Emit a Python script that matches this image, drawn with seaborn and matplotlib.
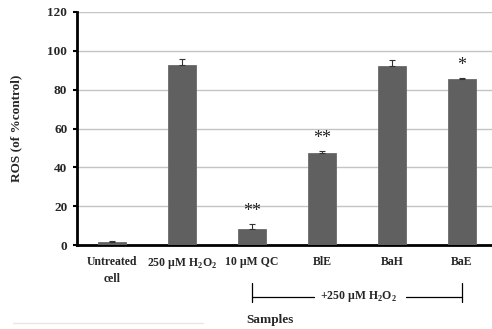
import matplotlib
matplotlib.use("Agg")
import matplotlib.pyplot as plt
import matplotlib.transforms as mtransforms
import seaborn as sns
import pandas as pd

# Données
samples = ["Untreated\ncell", "250 µM H$_\\mathregular{2}$O$_\\mathregular{2}$", "10 µM QC", "BlE", "BaH", "BaE"]
ros = [1.8, 92.5, 8.3, 47.3, 92.0, 85.5]
sem = [0.2, 3.3, 2.5, 1.0, 3.3, 0.5]
stars = ["", "", "**", "**", "", "*"]

sns.set_theme(style="white")
plt.rcParams["font.family"] = ["Liberation Serif", "DejaVu Serif"]
plt.rcParams["font.weight"] = "bold"
plt.rcParams["mathtext.fontset"] = "custom"
plt.rcParams["mathtext.rm"] = "Liberation Serif:bold"

df = pd.DataFrame({"sample": samples, "ros": ros})

fig = plt.figure(figsize=(4.92, 3.29), dpi=100)
ax = fig.add_axes([77 / 492, 1 - 245 / 329, 420 / 492, 233 / 329])

sns.barplot(x="sample", y="ros", data=df, color="#606060", width=0.4,
            saturation=1, ax=ax, zorder=3, edgecolor="#6a6a6a", linewidth=0.6)
ax.errorbar(range(len(ros)), ros, yerr=[[0] * len(sem), sem], fmt="none",
            ecolor="#333333", elinewidth=0.8, capsize=2.5, capthick=0.8, zorder=4)

for i, s in enumerate(stars):
    if s:
        ax.annotate(s, (i, ros[i] + sem[i]), xytext=(0, 3), textcoords="offset points",
                    ha="center", va="bottom", fontsize=13, fontweight="normal",
                    color="#222222")

ax.set_ylim(0, 120)
ax.set_xlim(-0.5, 5.5)
ax.set_yticks(range(0, 121, 20))
ax.yaxis.grid(True, color="#c4c4c4", linewidth=1, zorder=0)
ax.set_axisbelow(True)

ax.set_xticks(range(len(samples)))
ax.set_xticklabels(samples, fontsize=8.5, fontweight="bold", linespacing=1.5)
ax.set_xticks([i + 0.5 for i in range(-1, 6)], minor=True)
ax.tick_params(axis="x", which="major", length=0, pad=8)
ax.tick_params(axis="x", which="minor", length=3, width=1.5, color="black", direction="out")
ax.tick_params(axis="y", length=3, width=1.5, color="black", direction="out",
               labelsize=9.5, pad=4, left=True)
for lab in ax.get_yticklabels():
    lab.set_fontweight("bold")

for side in ["top", "right"]:
    ax.spines[side].set_visible(False)
for side in ["left", "bottom"]:
    ax.spines[side].set_color("black")
    ax.spines[side].set_linewidth(2)

ax.set_xlabel("")
ax.set_ylabel("ROS (of %control)", fontsize=9.5, fontweight="bold", labelpad=18)
fig.text(270 / 492, 1 - 320 / 329, "Samples", ha="center", va="center",
         fontsize=9.5, fontweight="bold")

# Accolade +250 µM H2O2
trans = mtransforms.blended_transform_factory(ax.transData, ax.transAxes)
y_mid = -0.222
for xv in [2, 5]:
    ax.plot([xv, xv], [-0.163, -0.245], color="black", lw=0.9, transform=trans, clip_on=False)
ax.plot([2, 2.88], [y_mid, y_mid], color="black", lw=0.9, transform=trans, clip_on=False)
ax.plot([4.2, 5], [y_mid, y_mid], color="black", lw=0.9, transform=trans, clip_on=False)
ax.text(3.52, y_mid, "+250 µM H$_\\mathregular{2}$O$_\\mathregular{2}$", transform=trans,
        ha="center", va="center", fontsize=8.5, fontweight="bold")

fig.add_artist(plt.Line2D([13 / 492, 203 / 492], [1 - 323 / 329] * 2, color="#e6e6e6", lw=1))

fig.savefig("out.png", dpi=100)
